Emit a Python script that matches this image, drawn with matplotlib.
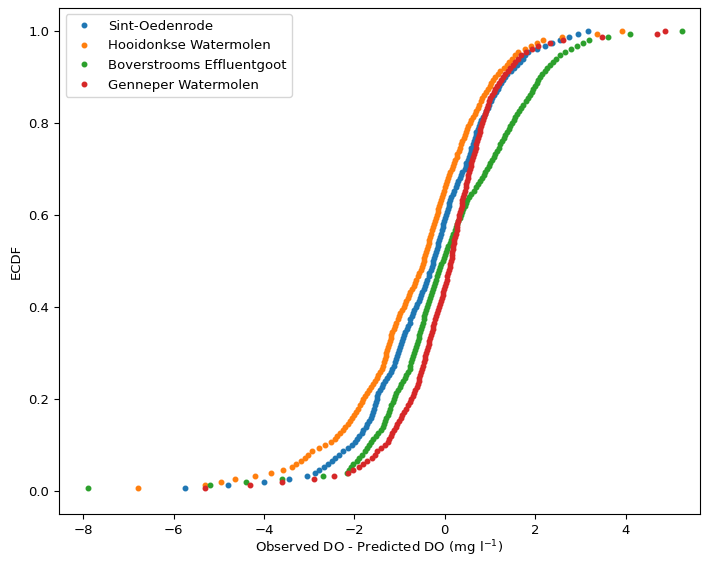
import numpy as np
import matplotlib
matplotlib.use("Agg")
import matplotlib.pyplot as plt

# residuals (observed - predicted DO), sorted
sint_oedenrode = [
    -5.75, -4.80, -4.00, -3.45, -3.05, -2.88, -2.78, -2.68, -2.59, -2.50,
    -2.42, -2.34, -2.25, -2.15, -2.05, -1.99, -1.94, -1.89, -1.84, -1.80,
    -1.75, -1.71, -1.68, -1.64, -1.62, -1.59, -1.57, -1.55, -1.53, -1.51,
    -1.49, -1.47, -1.43, -1.39, -1.36, -1.32, -1.28, -1.24, -1.20, -1.16,
    -1.13, -1.11, -1.09, -1.06, -1.04, -1.01, -0.99, -0.97, -0.94, -0.92,
    -0.90, -0.87, -0.84, -0.81, -0.78, -0.76, -0.73, -0.70, -0.67, -0.64,
    -0.61, -0.58, -0.55, -0.52, -0.50, -0.47, -0.44, -0.42, -0.39, -0.36,
    -0.34, -0.31, -0.28, -0.27, -0.25, -0.23, -0.21, -0.19, -0.17, -0.16,
    -0.14, -0.12, -0.10, -0.08, -0.06, -0.04, -0.03, -0.01, 0.01, 0.03,
    0.05, 0.07, 0.09, 0.10, 0.12, 0.14, 0.18, 0.21, 0.24, 0.27,
    0.30, 0.33, 0.35, 0.39, 0.44, 0.47, 0.48, 0.51, 0.53, 0.55,
    0.57, 0.59, 0.62, 0.64, 0.66, 0.68, 0.70, 0.73, 0.75, 0.77,
    0.81, 0.84, 0.88, 0.91, 0.95, 0.98, 1.02, 1.05, 1.09, 1.13,
    1.17, 1.21, 1.25, 1.29, 1.33, 1.38, 1.46, 1.52, 1.59, 1.67,
    1.72, 1.78, 1.85, 2.05, 2.21, 2.37, 2.54, 2.75, 2.94, 3.16,
]

hooidonkse = [
    -6.78, -5.30, -4.95, -4.65, -4.20, -3.85, -3.57, -3.38, -3.28, -3.17,
    -3.09, -3.02, -2.94, -2.79, -2.65, -2.51, -2.43, -2.38, -2.32, -2.26,
    -2.20, -2.15, -2.10, -2.05, -2.01, -1.97, -1.92, -1.88, -1.84, -1.80,
    -1.76, -1.71, -1.67, -1.63, -1.59, -1.55, -1.51, -1.47, -1.43, -1.38,
    -1.36, -1.34, -1.32, -1.31, -1.29, -1.27, -1.25, -1.24, -1.22, -1.20,
    -1.18, -1.16, -1.13, -1.10, -1.07, -1.04, -1.01, -0.98, -0.94, -0.91,
    -0.88, -0.85, -0.82, -0.79, -0.76, -0.72, -0.69, -0.66, -0.63, -0.60,
    -0.57, -0.53, -0.50, -0.49, -0.47, -0.45, -0.43, -0.41, -0.39, -0.38,
    -0.36, -0.34, -0.32, -0.30, -0.28, -0.26, -0.24, -0.22, -0.20, -0.18,
    -0.16, -0.14, -0.12, -0.10, -0.08, -0.06, -0.04, -0.01, 0.01, 0.03,
    0.05, 0.07, 0.10, 0.12, 0.15, 0.18, 0.20, 0.23, 0.26, 0.28,
    0.31, 0.34, 0.36, 0.39, 0.42, 0.44, 0.47, 0.50, 0.52, 0.55,
    0.59, 0.62, 0.66, 0.69, 0.73, 0.76, 0.80, 0.83, 0.87, 0.91,
    0.95, 0.99, 1.02, 1.06, 1.10, 1.17, 1.23, 1.30, 1.37, 1.43,
    1.49, 1.56, 1.62, 1.78, 1.91, 2.04, 2.17, 2.59, 3.36, 3.91,
]

boverstrooms = [
    -7.89, -5.20, -4.40, -3.60, -2.70, -2.16, -2.12, -2.07, -2.03, -1.95,
    -1.90, -1.84, -1.77, -1.73, -1.68, -1.63, -1.58, -1.53, -1.47, -1.42,
    -1.37, -1.35, -1.32, -1.29, -1.26, -1.23, -1.21, -1.18, -1.15, -1.12,
    -1.10, -1.07, -1.04, -1.00, -0.96, -0.93, -0.89, -0.86, -0.82, -0.78,
    -0.76, -0.74, -0.72, -0.70, -0.68, -0.66, -0.64, -0.62, -0.60, -0.58,
    -0.56, -0.55, -0.53, -0.51, -0.49, -0.47, -0.45, -0.43, -0.41, -0.39,
    -0.37, -0.35, -0.33, -0.31, -0.28, -0.26, -0.24, -0.22, -0.19, -0.17,
    -0.15, -0.13, -0.10, -0.08, -0.05, -0.02, 0.00, 0.03, 0.06, 0.08,
    0.11, 0.14, 0.16, 0.19, 0.22, 0.25, 0.27, 0.30, 0.33, 0.36,
    0.39, 0.41, 0.44, 0.47, 0.50, 0.54, 0.59, 0.64, 0.68, 0.73,
    0.78, 0.83, 0.86, 0.90, 0.93, 0.97, 1.00, 1.04, 1.08, 1.11,
    1.15, 1.19, 1.22, 1.26, 1.30, 1.33, 1.37, 1.41, 1.44, 1.48,
    1.52, 1.56, 1.60, 1.64, 1.69, 1.74, 1.80, 1.84, 1.88, 1.92,
    1.95, 1.99, 2.03, 2.06, 2.10, 2.16, 2.21, 2.26, 2.32, 2.39,
    2.47, 2.55, 2.66, 2.79, 2.93, 3.06, 3.20, 3.60, 4.10, 5.24,
]

genneper = [
    -5.30, -4.30, -3.60, -2.90, -2.45, -2.15, -2.02, -1.89, -1.80, -1.71,
    -1.61, -1.55, -1.49, -1.41, -1.32, -1.26, -1.23, -1.19, -1.16, -1.12,
    -1.09, -1.05, -1.01, -0.97, -0.94, -0.90, -0.86, -0.82, -0.78, -0.75,
    -0.71, -0.67, -0.65, -0.62, -0.60, -0.58, -0.56, -0.54, -0.52, -0.50,
    -0.48, -0.46, -0.44, -0.43, -0.41, -0.39, -0.37, -0.36, -0.34, -0.32,
    -0.30, -0.29, -0.27, -0.25, -0.23, -0.21, -0.19, -0.17, -0.15, -0.13,
    -0.11, -0.09, -0.07, -0.05, -0.03, -0.02, 0.00, 0.02, 0.04, 0.06,
    0.08, 0.10, 0.11, 0.12, 0.14, 0.15, 0.16, 0.17, 0.18, 0.19,
    0.20, 0.21, 0.23, 0.24, 0.26, 0.27, 0.28, 0.30, 0.31, 0.32,
    0.34, 0.35, 0.37, 0.38, 0.39, 0.41, 0.43, 0.44, 0.46, 0.48,
    0.49, 0.51, 0.52, 0.54, 0.55, 0.57, 0.59, 0.60, 0.62, 0.64,
    0.66, 0.68, 0.69, 0.71, 0.73, 0.75, 0.77, 0.78, 0.80, 0.82,
    0.84, 0.87, 0.89, 0.92, 0.94, 0.96, 0.98, 1.00, 1.04, 1.08,
    1.12, 1.16, 1.20, 1.24, 1.28, 1.33, 1.39, 1.44, 1.50, 1.56,
    1.62, 1.69, 1.80, 1.94, 2.07, 2.32, 2.61, 3.47, 4.69, 4.88,
]

stations = ['Sint-Oedenrode', 'Hooidonkse Watermolen',
            'Boverstrooms Effluentgoot', 'Genneper Watermolen']
residuals = [sint_oedenrode, hooidonkse, boverstrooms, genneper]


def ecdf(data):
    x = np.sort(np.asarray(data))
    y = np.arange(1, len(x) + 1) / len(x)
    return x, y


plt.rcParams['font.size'] = 9.5

fig = plt.figure(figsize=(7.04, 5.61), dpi=100)
ax = fig.add_axes([0.084, 0.083, 0.91, 0.903])

for name, res in zip(stations, residuals):
    x, y = ecdf(res)
    ax.plot(x, y, marker='.', markersize=6.5, linestyle='none', label=name)

ax.set_xlim(-8.53, 5.64)
ax.set_ylim(-0.05, 1.05)
ax.set_xticks([-8, -6, -4, -2, 0, 2, 4])
ax.set_xlabel('Observed DO - Predicted DO (mg l$^{-1}$)', labelpad=1)
ax.set_ylabel('ECDF')
ax.legend(loc='upper left')

fig.savefig('out.png', dpi=100)
